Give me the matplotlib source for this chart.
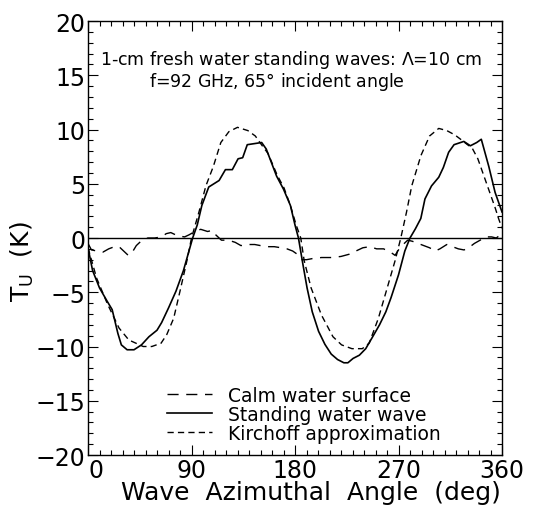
import numpy as np
import matplotlib
matplotlib.use('Agg')
import matplotlib.pyplot as plt
from matplotlib.ticker import MultipleLocator

# angulo azimutal (deg) y Tu (K)
ang_ola = [0, 4, 10, 16.5, 21, 26, 29, 34, 40, 46.5, 53, 60, 64, 70, 76.5, 83, 87, 91,
           95, 99, 105, 114, 119.5, 125.5, 130.5, 134.5, 138.5, 151, 155, 164, 170, 176,
           180, 183, 187, 190.5, 195, 200.5, 206, 211.5, 217, 222.5, 226, 230.5, 236,
           241.5, 247, 253.5, 259, 263.5, 270, 275.5, 280, 284.7, 289.4, 293, 298.7,
           305, 309, 313.6, 318.3, 326.8, 332.5, 338, 342, 348.5, 354, 360]
tu_ola = [-0.9, -3.0, -4.6, -5.8, -6.6, -8.8, -9.85, -10.3, -10.3, -9.85, -9.1, -8.5,
          -7.8, -6.45, -4.9, -3.0, -1.5, 0.0,
          1.2, 3.0, 4.7, 5.3, 6.3, 6.3, 7.3, 7.4, 8.6, 8.8, 8.2, 5.7, 4.5, 3.0, 1.2, 0.0,
          -2.5, -4.6, -6.8, -8.6, -9.8, -10.7, -11.2, -11.5, -11.5, -11.1, -10.8, -10.2,
          -9.2, -8.0, -6.8, -5.5, -3.4, -1.2, 0.0, 0.85, 1.8, 3.6, 4.8, 5.6, 6.5, 7.9,
          8.6, 8.9, 8.5, 8.8, 9.1, 6.6, 4.2, 2.4]

ang_kir = [0, 7.5, 17, 27, 35.5, 48, 55.5, 63.5, 68.5, 74.5, 80, 86, 90, 96.5, 102.5,
           109, 115.5, 122.5, 130, 139, 145.5, 151.5, 156.5, 164.5, 170.5, 176, 181, 185,
           188, 194, 203, 213, 220.5, 229.5, 238.5, 244.5, 252.5, 261, 267, 272, 277,
           281.5, 289.5, 297, 305, 312, 319, 324, 330, 334, 339, 344, 349, 354, 357, 360]
tu_kir = [-0.9, -3.7, -6.1, -8.3, -9.4, -10.0, -10.0, -9.7, -8.9, -7.4, -4.9, -2.1,
          0.0, 2.4, 4.8, 6.6, 8.8, 9.8, 10.2, 9.9, 9.4, 8.5, 7.8, 5.8, 4.6, 3.0, 1.2,
          0.0, -2.1, -4.6, -7.1, -9.1, -9.85, -10.2, -10.2, -9.7, -7.4, -4.3, -2.1, 0.0,
          2.4, 4.8, 7.6, 9.4, 10.1, 9.9, 9.5, 9.1, 8.6, 8.3, 7.3, 5.8, 4.3, 2.8, 1.8, 0.9]

ang_calma = [0, 3, 8, 13, 18, 23, 27, 31, 35, 38, 42, 46, 52, 58, 64, 68, 72, 78, 84,
             88, 93, 98, 104, 108, 111, 116, 122, 128, 133, 138, 145, 150, 156, 162,
             168, 173, 178, 182, 186, 190, 195, 203, 212, 220, 227, 233, 239, 245, 251,
             257, 263, 267, 270, 274, 278, 282, 287, 292, 297, 302, 306, 312, 317, 322,
             327, 331, 336, 341, 346, 351, 355, 360]
tu_calma = [-0.5, -1.1, -1.2, -1.3, -1.0, -0.8, -0.8, -1.2, -1.6, -1.4, -0.7, -0.3,
            0.0, 0.0, 0.1, 0.4, 0.5, 0.2, 0.1, 0.3, 0.6, 0.8, 0.6, 0.7, 0.3, -0.2, -0.2,
            -0.4, -0.7, -0.6, -0.6, -0.7, -0.8, -0.8, -0.9, -1.0, -1.2, -1.5, -2.0, -2.0,
            -1.9, -1.8, -1.8, -1.7, -1.5, -1.2, -0.9, -0.8, -1.0, -1.0, -1.3, -1.6, -1.1,
            -0.6, -0.2, -0.3, -0.5, -0.7, -0.9, -1.2, -1.0, -0.6, -0.8, -1.0, -1.1, -0.9,
            -0.5, -0.2, 0.1, 0.1, 0.0, 0.4]

titulo = ('1-cm fresh water standing waves: $\\Lambda$=10 cm\n'
          'f=92 GHz, 65$\\degree$ incident angle      ')
etiquetas = ['Calm water surface', 'Standing water wave', 'Kirchoff approximation']

plt.rcParams['font.family'] = 'DejaVu Sans'
plt.rcParams['mathtext.fontset'] = 'dejavusans'

fig = plt.figure(figsize=(5.45, 5.1), dpi=100)
ax = fig.add_axes([88 / 545, 1 - 456 / 510, 414 / 545, 434 / 510])

ax.axhline(0, color='black', lw=1.0)
l1, = ax.plot(ang_calma, tu_calma, color='black', lw=1.0, dashes=(8, 5.5), label=etiquetas[0])
l2, = ax.plot(ang_ola, tu_ola, color='black', lw=1.2, label=etiquetas[1])
l3, = ax.plot(ang_kir, tu_kir, color='black', lw=1.0, dashes=(4.5, 3), label=etiquetas[2])

ax.set_xlim(0, 360)
ax.set_ylim(-20, 20)
ax.xaxis.set_major_locator(MultipleLocator(90))
ax.xaxis.set_minor_locator(MultipleLocator(10))
ax.yaxis.set_major_locator(MultipleLocator(5))
ax.yaxis.set_minor_locator(MultipleLocator(1))
ax.tick_params(which='both', direction='in', top=True, right=True, labelsize=17, width=0.8)
ax.tick_params(which='major', length=7, pad=2)
ax.tick_params(which='minor', length=3.5)
for s in ax.spines.values():
    s.set_linewidth(1.0)

ax.set_xlabel('Wave  Azimuthal  Angle  (deg)', fontsize=18)
ax.xaxis.set_label_coords(0.539, -0.058)
ax.set_ylabel('T$_\\mathregular{U}$  (K)', fontsize=18)
ax.yaxis.set_label_coords(-0.126, 0.447)

ax.text(0.49, 0.888, titulo, transform=ax.transAxes, ha='center', va='center',
        fontsize=12.5, linespacing=1.0)

ax.legend(handles=[l1, l2, l3], loc='lower left', bbox_to_anchor=(0.19, 0.028),
          frameon=False, fontsize=13.5, handlelength=2.4, handletextpad=0.85,
          labelspacing=0.0, borderpad=0, borderaxespad=0)

# el "0" del eje x alineado a la izquierda para no pisar el "-20"
fig.canvas.draw()
for t in ax.xaxis.get_major_ticks():
    if t.get_loc() == 0:
        t.label1.set_horizontalalignment('left')

plt.savefig('out.png', dpi=100)
